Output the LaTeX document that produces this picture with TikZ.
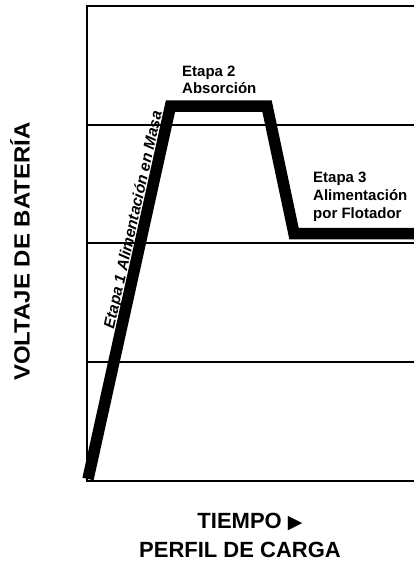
\documentclass[tikz,border=0pt]{standalone}
\usepackage{fontspec}
\setmainfont{Liberation Sans}
\newfontfamily\symfont{DejaVu Sans}
\begin{document}
\begin{tikzpicture}[x=1pt,y=-1pt,
  gridline/.style={line width=1.4pt,black},
  curve/.style={line width=11.5pt,black,line join=miter},
  lbl/.style={inner sep=0pt,font=\fontsize{15}{17}\selectfont\bfseries},
  biglbl/.style={inner sep=0pt,font=\fontsize{22}{25}\selectfont\bfseries}]
\useasboundingbox (0,0) rectangle (414,563);
% frame and grid
\coordinate (tl) at (87,6);
\coordinate (bl) at (87,481);
\draw[gridline] (414,6) -- (tl) -- (bl) -- (414,481);
\foreach \yy in {125,243,362} \draw[gridline] (87,\yy) -- (414,\yy);
% charge profile
\coordinate (p0) at (88,479);
\coordinate (p1) at (170.5,106);
\coordinate (p2) at (267,106);
\coordinate (p3) at (294,233.5);
\coordinate (p4) at (420,233.5);
\draw[curve] (p0) -- (p1) -- (p2) -- (p3) -- (p4);
% labels
\node[lbl,anchor=base west] (e2a) at (182,76) {Etapa 2};
\node[lbl,anchor=base west] (e2b) at (182,93) {Absorción};
\node[lbl,anchor=base west] (e3a) at (313,182) {Etapa 3};
\node[lbl,anchor=base west] (e3b) at (313,200.5) {Alimentación};
\node[lbl,anchor=base west] (e3c) at (313,218.5) {por Flotador};
\node[lbl,anchor=base,rotate=77.5,font=\fontsize{15.5}{17}\selectfont\bfseries\itshape] (e1) at (138,221) {Etapa 1 Alimentación en Masa};
\node[biglbl,anchor=base,rotate=90] (yl) at (29.5,251.5) {\scalebox{1.09}[1]{VOLTAJE DE BATERÍA}};
\node[biglbl,anchor=base] (tx) at (250,528) {TIEMPO {\symfont\fontsize{19}{20}\selectfont ▶}};
\node[biglbl,anchor=base] (px) at (240,557) {PERFIL DE CARGA};
\end{tikzpicture}
\end{document}
